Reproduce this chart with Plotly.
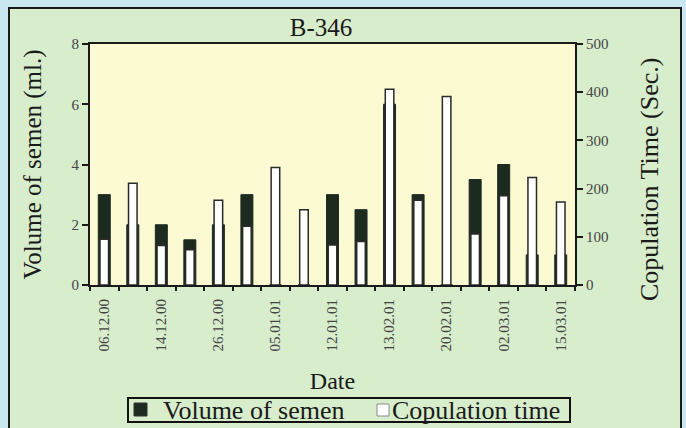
import plotly.graph_objects as go

# ---- data ----
positions = list(range(17))
label_positions = [0, 2, 4, 6, 8, 10, 12, 14, 16]
date_labels = ["06.12.00", "14.12.00", "26.12.00", "05.01.01", "12.01.01",
               "13.02.01", "20.02.01", "02.03.01", "15.03.01"]
volume_ml = [3, 2, 2, 1.5, 2, 3, 0, 0, 3, 2.5, 6, 3, 0, 3.5, 4, 1, 1]
copulation_sec = [95, 211, 82, 73, 176, 122, 244, 156, 83, 90, 406, 176, 391, 106, 185, 223, 172]
series_names = ["Volume of semen", "Copulation time"]

SERIF = "Liberation Serif"
OUTER = "#c9e7ee"
FRAME = "#d7edcc"
PLOT_BG = "#fcfad3"
DARK = "#1c2a20"

fig = go.Figure()
fig.add_trace(go.Bar(
    x=positions, y=volume_ml, name=series_names[0], yaxis="y",
    width=0.42, marker=dict(color=DARK, line=dict(color=DARK, width=1)),
))
fig.add_trace(go.Bar(
    x=positions, y=copulation_sec, name=series_names[1], yaxis="y2",
    width=0.3, marker=dict(color="#ffffff", line=dict(color="#2a2a2a", width=1.5)),
))

# plot-area geometry (pixels) used to place frame / legend shapes
L, R, T, B = 90, 575, 44, 285
W, H = 686, 428
def px_x(p):
    return (p - L) / (R - L)
def px_y(p):
    return (B - p) / (B - T)

shapes = [
    # outer chart frame
    dict(type="rect", xref="paper", yref="paper", layer="below",
         x0=px_x(9), x1=px_x(681), y0=px_y(445), y1=px_y(8),
         fillcolor=FRAME, line=dict(color="#1a1a1a", width=2)),
    # plot area fill
    dict(type="rect", xref="paper", yref="paper", layer="below",
         x0=0, x1=1, y0=0, y1=1, fillcolor=PLOT_BG, line=dict(width=0)),
    # legend box
    dict(type="rect", xref="paper", yref="paper", layer="above",
         x0=px_x(128), x1=px_x(570), y0=px_y(422), y1=px_y(398),
         fillcolor=FRAME, line=dict(color="#111111", width=2)),
    # legend swatches
    dict(type="rect", xref="paper", yref="paper", layer="above",
         x0=px_x(134), x1=px_x(147), y0=px_y(416), y1=px_y(403),
         fillcolor=DARK, line=dict(color="#333333", width=1)),
    dict(type="rect", xref="paper", yref="paper", layer="above",
         x0=px_x(377), x1=px_x(389), y0=px_y(416), y1=px_y(404),
         fillcolor="#ffffff", line=dict(color="#8a8a8a", width=1)),
]

annotations = [
    dict(text=series_names[0], xref="paper", yref="paper", x=px_x(161), y=px_y(410),
         xanchor="left", yanchor="middle", showarrow=False,
         font=dict(family=SERIF, size=26, color="#1a1a1a")),
    dict(text=series_names[1], xref="paper", yref="paper", x=px_x(390), y=px_y(410),
         xanchor="left", yanchor="middle", showarrow=False,
         font=dict(family=SERIF, size=26, color="#1a1a1a")),
    # right axis title
    dict(text="Copulation Time (Sec.)", xref="paper", yref="paper",
         x=px_x(649), y=px_y(180), xanchor="center", yanchor="middle",
         textangle=-90, showarrow=False,
         font=dict(family=SERIF, size=26, color="#1a1a1a")),
]

fig.update_layout(
    width=W, height=H,
    margin=dict(l=L, r=W - R, t=T, b=H - B, autoexpand=False),
    paper_bgcolor=OUTER,
    plot_bgcolor="rgba(0,0,0,0)",
    barmode="overlay",
    showlegend=False,
    font=dict(family=SERIF, color="#222222"),
    title=dict(text="B-346", x=321 / W, xref="container", xanchor="center",
               y=1 - 27 / H, yref="container", yanchor="middle",
               font=dict(family=SERIF, size=25, color="#1a1a1a")),
    shapes=shapes,
    annotations=annotations,
    xaxis=dict(
        range=[-0.5, 16.5], tickmode="array", tickvals=label_positions,
        ticktext=date_labels, tickangle=-90, ticks="outside", ticklen=6,
        tickcolor="rgba(0,0,0,0)", automargin=False,
        tickfont=dict(family=SERIF, size=15, color="#444444"),
        showline=True, linecolor="#1a1a1a", linewidth=2, mirror=True,
        showgrid=False, zeroline=False,
        minor=dict(tickmode="linear", tick0=-0.5, dtick=1, ticks="outside",
                   ticklen=4, tickwidth=1.5, tickcolor="#1a1a1a", showgrid=False),
        title=dict(text="Date", font=dict(family=SERIF, size=24, color="#1a1a1a"),
                   standoff=22),
    ),
    yaxis=dict(
        range=[0, 8], dtick=2, ticks="outside", ticklen=6, tickwidth=1.5,
        tickcolor="#1a1a1a", showline=True, linecolor="#1a1a1a", linewidth=2,
        showgrid=False, zeroline=False, automargin=False,
        tickfont=dict(family=SERIF, size=15, color="#444444"),
        title=dict(text="Volume of semen (ml.)",
                   font=dict(family=SERIF, size=25, color="#1a1a1a"), standoff=23),
    ),
    yaxis2=dict(
        range=[0, 500], dtick=100, overlaying="y", side="right",
        ticks="outside", ticklen=6, tickwidth=1.5, tickcolor="#1a1a1a",
        showline=True, linecolor="#1a1a1a", linewidth=2,
        showgrid=False, zeroline=False, automargin=False,
        tickfont=dict(family=SERIF, size=15, color="#444444"),
    ),
)

fig.write_html("out.html")
